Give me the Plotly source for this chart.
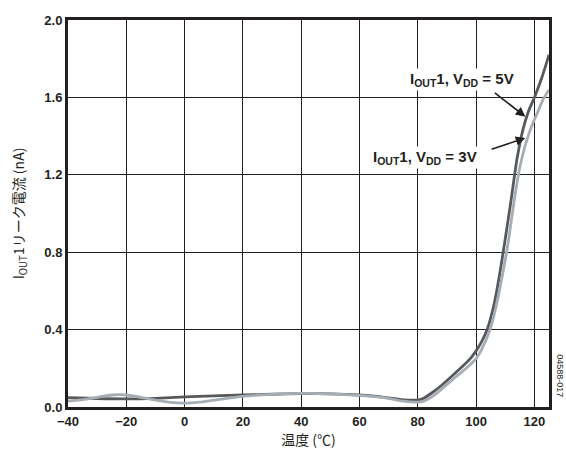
import plotly.graph_objects as go

# Data
temp_5v = [-40, -30, -20, -10, 0, 10, 20, 30, 40, 50, 60, 65, 70, 75, 80, 82, 85, 88, 91, 95, 98, 100, 102, 104, 106, 108, 110, 112, 114, 116, 118, 120, 122.5, 125]
leak_5v = [0.048, 0.044, 0.042, 0.045, 0.052, 0.058, 0.062, 0.066, 0.069, 0.068, 0.062, 0.056, 0.047, 0.037, 0.036, 0.045, 0.075, 0.11, 0.15, 0.205, 0.25, 0.29, 0.34, 0.41, 0.52, 0.68, 0.87, 1.07, 1.28, 1.43, 1.53, 1.60, 1.70, 1.82]

temp_3v = [-40, -35, -30, -25, -20, -15, -10, -5, 0, 5, 10, 20, 30, 40, 50, 60, 70, 75, 80, 82, 85, 88, 91, 95, 98, 100, 102, 105, 107, 109, 111, 113, 115, 117, 119, 121, 123, 125]
leak_3v = [0.030, 0.038, 0.050, 0.062, 0.062, 0.050, 0.035, 0.024, 0.020, 0.025, 0.035, 0.055, 0.065, 0.070, 0.068, 0.060, 0.045, 0.030, 0.025, 0.030, 0.055, 0.09, 0.13, 0.18, 0.22, 0.25, 0.30, 0.41, 0.53, 0.68, 0.85, 1.06, 1.24, 1.36, 1.45, 1.52, 1.59, 1.64]

x_ticks = [-40, -20, 0, 20, 40, 60, 80, 100, 120]
x_tick_text = ["\u221240", "\u221220", "0", "20", "40", "60", "80", "100", "120"]
y_ticks = [0.0, 0.4, 0.8, 1.2, 1.6, 2.0]
y_tick_text = ["0.0", "0.4", "0.8", "1.2", "1.6", "2.0"]

label_5v = "<b>I<sub>OUT</sub>1, V<sub>DD</sub> = 5V</b>"
label_3v = "<b>I<sub>OUT</sub>1, V<sub>DD</sub> = 3V</b>"

DARK = "#58595b"
LIGHT = "#a6adb5"
INK = "#231f20"
BOLD = dict(family="Liberation Sans, Arial, sans-serif", size=13, color=INK, weight="bold")
LABEL = dict(family="Liberation Sans, Arial, sans-serif", size=15, color=INK, weight="bold")

fig = go.Figure()
fig.add_trace(go.Scatter(x=temp_5v, y=leak_5v, mode="lines", name="5V",
                         line=dict(color=DARK, width=2.8, shape="spline", smoothing=0.6)))
fig.add_trace(go.Scatter(x=temp_3v, y=leak_3v, mode="lines", name="3V",
                         line=dict(color=LIGHT, width=2.8, shape="spline", smoothing=0.6)))

fig.update_layout(
    width=566, height=454,
    margin=dict(l=68, r=17, t=20, b=47),
    paper_bgcolor="white", plot_bgcolor="white",
    showlegend=False,
    xaxis=dict(range=[-40, 125], tickvals=x_ticks, ticktext=x_tick_text,
               showgrid=True, gridcolor=INK, gridwidth=1,
               showline=True, linecolor=INK, linewidth=3, mirror=True,
               zeroline=False, ticks="", tickfont=BOLD,
               title=dict(text="温度 (℃)", standoff=3,
                          font=dict(family="Noto Sans CJK JP", size=14, color=INK))),
    yaxis=dict(range=[0, 2.0], tickvals=y_ticks, ticktext=y_tick_text,
               showgrid=True, gridcolor=INK, gridwidth=1,
               showline=True, linecolor=INK, linewidth=3, mirror=True,
               zeroline=False, ticks="", tickfont=BOLD,
               title=dict(text="I<sub>OUT</sub>1リーク電流 (nA)", standoff=17,
                          font=dict(family="Noto Sans CJK JP", size=14, color=INK))),
)

# labels
fig.add_annotation(x=95.2, y=1.69, text=label_5v, showarrow=False, font=LABEL,
                   bgcolor="white")
fig.add_annotation(x=82.4, y=1.29, text=label_3v, showarrow=False, font=LABEL,
                   bgcolor="white")
# arrows
fig.add_annotation(x=116.9, y=1.50, ax=105.9, ay=1.63, axref="x", ayref="y",
                   text="", showarrow=True, arrowhead=2, arrowsize=1.2,
                   arrowwidth=1.6, arrowcolor=INK)
fig.add_annotation(x=116.9, y=1.39, ax=104.8, ay=1.33, axref="x", ayref="y",
                   text="", showarrow=True, arrowhead=2, arrowsize=1.2,
                   arrowwidth=1.6, arrowcolor=INK)

fig.add_annotation(xref="paper", yref="paper", x=1.024, y=0.02, text="04588-017",
                   textangle=90, showarrow=False, xanchor="center", yanchor="bottom",
                   font=dict(family="Liberation Sans, Arial", size=9, color=INK))

fig.write_html("out.html", config={"displayModeBar": False},
               post_script="document.body.style.margin='0';document.body.style.padding='0';")
